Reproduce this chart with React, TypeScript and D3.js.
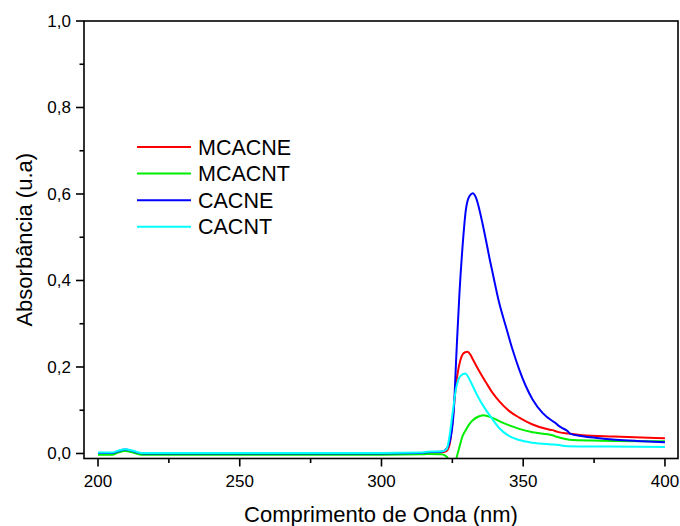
import React from "react";
import * as d3 from "d3";

const seriesNames = ["MCACNE", "MCACNT", "CACNE", "CACNT"];
const seriesColors = ["#ff0000", "#00ee00", "#0000ff", "#00ffff"];

const mcacneX = [200, 205, 207, 209.5, 212, 214, 216, 260, 300, 314, 316, 321.5, 323, 324, 325.1, 326, 326.9, 327.8, 328.6, 329.5, 330.4, 331.3, 332.2, 334.5, 336.9, 339.2, 341.5, 345.1, 348.6, 353.3, 358, 360.3, 362.1, 366.2, 370.9, 382, 400];
const mcacneY = [0.0, 0.0, 0.004, 0.008, 0.005, 0.001, -0.001, -0.001, -0.001, 0.0, 0.002, 0.003, 0.006, 0.02, 0.075, 0.14, 0.187, 0.215, 0.229, 0.234, 0.235, 0.229, 0.218, 0.19, 0.164, 0.14, 0.121, 0.098, 0.083, 0.067, 0.057, 0.054, 0.05, 0.046, 0.042, 0.039, 0.035];

const mcacntX = [200, 205, 207, 209.5, 212, 214, 216, 260, 300, 314, 316, 321, 322.5, 323.5, 324.5, 325.5, 326.3, 327.5, 328.6, 329.8, 331, 332.2, 334.5, 336, 338.6, 341.5, 345.1, 348.6, 353.3, 360.3, 362.1, 366.2, 375, 400];
const mcacntY = [-0.003, -0.003, 0.002, 0.006, 0.003, -0.001, -0.003, -0.003, -0.003, -0.002, -0.001, -0.002, -0.005, -0.012, -0.03, -0.04, -0.015, 0.015, 0.04, 0.055, 0.068, 0.077, 0.086, 0.0885, 0.084, 0.075, 0.065, 0.057, 0.049, 0.042, 0.038, 0.032, 0.03, 0.028];

const cacneX = [200, 205, 207, 209.5, 212, 214, 216, 260, 300, 314, 316, 321, 322.5, 324, 325.5, 326.5, 327.5, 328.5, 329.8, 331, 332.2, 333.3, 334.5, 335.7, 336.9, 338, 339.2, 341.5, 343.9, 346.2, 348.6, 350.9, 353.3, 356.8, 360.3, 361.5, 362.3, 364, 365.6, 366.5, 370.9, 376, 382.6, 390, 400];
const cacneY = [0.001, 0.001, 0.005, 0.009, 0.006, 0.002, 0.0, 0.0, 0.0, 0.001, 0.003, 0.004, 0.008, 0.025, 0.1, 0.24, 0.37, 0.47, 0.565, 0.595, 0.602, 0.592, 0.565, 0.53, 0.492, 0.455, 0.418, 0.349, 0.293, 0.241, 0.194, 0.156, 0.125, 0.094, 0.075, 0.07, 0.065, 0.058, 0.052, 0.046, 0.04, 0.036, 0.032, 0.029, 0.026];

const cacntX = [200, 205, 207, 209.5, 212, 214, 216, 260, 300, 314, 316, 321.5, 323, 324, 325.1, 326.3, 327.2, 328, 329.6, 330.5, 331.6, 333.9, 336.3, 339.2, 341.5, 345.1, 348.6, 353.3, 360, 362, 365.6, 380, 400];
const cacntY = [0.002, 0.002, 0.006, 0.01, 0.007, 0.003, 0.001, 0.001, 0.001, 0.002, 0.004, 0.005, 0.01, 0.04, 0.094, 0.15, 0.172, 0.18, 0.185, 0.178, 0.164, 0.133, 0.106, 0.079, 0.059, 0.04, 0.031, 0.025, 0.021, 0.02, 0.017, 0.016, 0.015];

const xMajorTicks = [200, 250, 300, 350, 400];
const xMinorTicks = [225, 275, 325, 375];
const yMajorTicks = [0, 0.2, 0.4, 0.6, 0.8, 1.0];
const yMinorTicks = [0.1, 0.3, 0.5, 0.7, 0.9];
const xTitle = "Comprimento de Onda (nm)";
const yTitle = "Absorbância (u.a)";

const W = 680;
const H = 526;
const L = 84, R = 678, T = 21, B = 458.5;
const FONT = "Arial, 'Liberation Sans', sans-serif";

export default function App() {
  const x = d3.scaleLinear().domain([195.06, 404.6]).range([L, R]);
  const y = d3.scaleLinear().domain([-0.0116, 1.0]).range([B, T]);
  const xs = [mcacneX, mcacntX, cacneX, cacntX];
  const ys = [mcacneY, mcacntY, cacneY, cacntY];
  const line = d3
    .line<[number, number]>()
    .x((d) => x(d[0]))
    .y((d) => y(d[1]))
    .curve(d3.curveMonotoneX);
  const fmt = (v: number) => v.toFixed(1).replace(".", ",");
  const legendX0 = 137, legendX1 = 191, legendTextX = 198, legendY0 = 147, legendDy = 26.6;

  return (
    <svg width={W} height={H} style={{ position: "absolute", left: 0, top: 0, background: "#fff" }}>
      <defs>
        <clipPath id="plotclip">
          <rect x={L} y={T} width={R - L} height={B - T} />
        </clipPath>
      </defs>
      <rect x={0} y={0} width={W} height={H} fill="#fff" />
      <g clipPath="url(#plotclip)">
        {seriesNames.map((name, i) => (
          <path
            key={name}
            d={line(xs[i].map((v, j) => [v, ys[i][j]] as [number, number])) || ""}
            fill="none"
            stroke={seriesColors[i]}
            strokeWidth={2}
            strokeLinejoin="round"
          />
        ))}
      </g>
      <rect x={L} y={T} width={R - L} height={B - T} fill="none" stroke="#000" strokeWidth={1.6} />
      {xMajorTicks.map((t) => (
        <g key={"xM" + t}>
          <line x1={x(t)} x2={x(t)} y1={B} y2={B + 8} stroke="#000" strokeWidth={1.6} />
          <text x={x(t)} y={487} textAnchor="middle" fontFamily={FONT} fontSize={17} fill="#000">
            {t}
          </text>
        </g>
      ))}
      {xMinorTicks.map((t) => (
        <line key={"xm" + t} x1={x(t)} x2={x(t)} y1={B} y2={B + 4.5} stroke="#000" strokeWidth={1.6} />
      ))}
      {yMajorTicks.map((t) => (
        <g key={"yM" + t}>
          <line x1={L - 8} x2={L} y1={y(t)} y2={y(t)} stroke="#000" strokeWidth={1.6} />
          <text x={71} y={y(t) + 6} textAnchor="end" fontFamily={FONT} fontSize={17} fill="#000">
            {fmt(t)}
          </text>
        </g>
      ))}
      {yMinorTicks.map((t) => (
        <line key={"ym" + t} x1={L - 4.5} x2={L} y1={y(t)} y2={y(t)} stroke="#000" strokeWidth={1.6} />
      ))}
      <text x={(L + R) / 2} y={522} textAnchor="middle" fontFamily={FONT} fontSize={22} fill="#000">
        {xTitle}
      </text>
      <text
        transform={`translate(32, ${(T + B) / 2}) rotate(-90)`}
        textAnchor="middle"
        fontFamily={FONT}
        fontSize={22}
        fill="#000"
      >
        {yTitle}
      </text>
      {seriesNames.map((name, i) => (
        <g key={"lg" + name}>
          <line
            x1={legendX0}
            x2={legendX1}
            y1={legendY0 + i * legendDy}
            y2={legendY0 + i * legendDy}
            stroke={seriesColors[i]}
            strokeWidth={2}
          />
          <text
            x={legendTextX}
            y={legendY0 + i * legendDy + 7.5}
            fontFamily={FONT}
            fontSize={21.5}
            fill="#000"
          >
            {name}
          </text>
        </g>
      ))}
    </svg>
  );
}
